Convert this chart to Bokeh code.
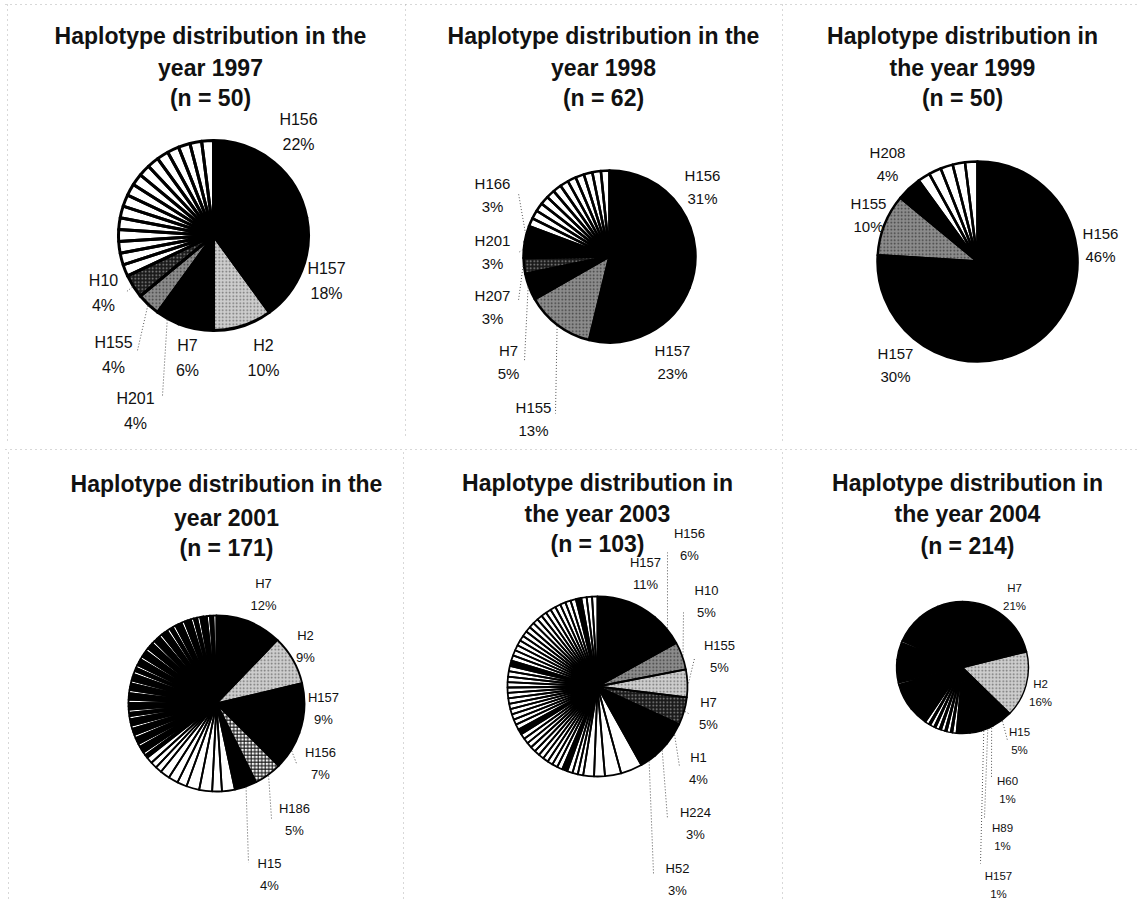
import math
from bokeh.plotting import figure
from bokeh.models import Range1d, ColumnDataSource
from bokeh.core.properties import value
from bokeh.embed import file_html
from bokeh.resources import INLINE

WIDTH, HEIGHT = 1145, 905

# ---------------------------------------------------------------- data
years = [1997, 1998, 1999, 2001, 2003, 2004]
sample_sizes = [50, 62, 50, 171, 103, 214]

# labelled haplotypes, clockwise from 12 o'clock, in percent of isolates
names_1997 = ["H156", "H157", "H2", "H7", "H201", "H155", "H10"]
pct_1997 = [22, 18, 10, 6, 4, 4, 4]
fill_1997 = "kkgkkmd"
# remaining haplotypes, as isolate counts
other_counts_1997 = [1, 1, 1, 1, 1, 1, 1, 1, 1, 1, 1, 1, 1, 1, 1, 1]
other_fill_1997 = "wwwwwwwwwwwwwwww"

names_1998 = ["H156", "H157", "H155", "H7", "H207", "H201", "H166"]
pct_1998 = [31, 23, 13, 5, 3, 3, 3]
fill_1998 = "kkmkdkk"
other_counts_1998 = [1, 1, 1, 1, 1, 1, 1, 1, 1, 1, 1, 1]
other_fill_1998 = "wwwwwwwwwwww"

names_1999 = ["H156", "H157", "H155", "H208"]
pct_1999 = [46, 30, 10, 4]
fill_1999 = "kkmk"
other_counts_1999 = [1, 1, 1, 1, 1]
other_fill_1999 = "wwwww"

names_2001 = ["H7", "H2", "H157", "H156", "H186", "H15"]
pct_2001 = [12, 9, 9, 7, 5, 4]
fill_2001 = "kgkkck"
other_counts_2001 = [4, 3, 4, 4, 3, 3, 3, 2, 2, 2,
                     1, 1, 1, 1, 1, 1, 1, 1, 1, 1,
                     1, 1, 1, 1, 1, 1, 1, 1, 1, 1,
                     1, 1, 1, 1, 1, 1, 1, 1, 1, 1,
                     1, 1, 1, 1, 1, 1, 1, 1, 1, 1,
                     1, 1, 1, 1, 1, 1, 1, 1, 1, 1,
                     1, 1, 1, 1, 1, 1, 1, 1, 1, 1]
other_fill_2001 = ("wwwwwwwwww"
                   "kwkkwkkwkk" "wkkwkwkkwk" "kwkkwkkwkw"
                   "kkwkkwkkwk" "kwkkwkwkkw" "kkwkwkkwkw")

names_2003 = ["H157", "H156", "H10", "H155", "H7", "H1", "H224", "H52"]
pct_2003 = [11, 6, 5, 5, 5, 4, 3, 3]
fill_2003 = "kkmgdkkk"
other_counts_2003 = [4, 3, 2, 2,
                     1, 1, 1, 1, 1, 1, 1, 1, 1, 1,
                     1, 1, 1, 1, 1, 1, 1, 1, 1, 1,
                     1, 1, 1, 1, 1, 1, 1, 1, 1, 1,
                     1, 1, 1, 1, 1, 1, 1, 1, 1, 1,
                     1, 1, 1, 1, 1, 1, 1, 1, 1]
other_fill_2003 = ("wwww"
                   "wwwkwwwwww" "wwwwkwwwww" "wwwwwwwkww"
                   "wwwwwwwwww" "wwwwwkwww")

names_2004 = ["H7", "H2", "H15", "H60", "H89", "H157"]
pct_2004 = [21, 16, 5, 1, 1, 1]
fill_2004 = "kgkkkk"
other_counts_2004 = [6, 7,
                     2, 1, 2, 1, 2, 1, 2, 1, 2, 1, 2,
                     10, 14, 1, 12, 9, 1, 15, 11, 13]
other_fill_2004 = ("kk"
                   "wkwkwkwkwkw"
                   "kkwkkwkkk")

# ---------------------------------------------------------------- styles
# fill code -> (fill colour, hatch pattern, hatch colour)
FILLS = {
    "k": ("#000000", " ", "#000000"),
    "w": ("#ffffff", " ", "#ffffff"),
    "g": ("#cdcdcd", "dot", "#6e6e6e"),
    "m": ("#8c8c8c", "dot", "#3c3c3c"),
    "d": ("#1a1a1a", "dot", "#8f8f8f"),
    "c": ("#f4f4f4", "cross", "#111111"),
}

# per-panel layout in page pixels (y downward)
LAYOUT = {
    1997: dict(c=(213, 235), r=95, lw=3.0, tx=210, ty=(35, 67, 97), split="the",
               fs=16, gap=25,
               lab={"H156": (298, 119), "H157": (326, 268), "H2": (263, 345),
                    "H7": (187, 345), "H201": (135, 398), "H155": (113, 342),
                    "H10": (103, 280)},
               lead={"H201": (162, 395), "H155": (137, 350), "H10": (125, 292)}),
    1998: dict(c=(609, 256), r=86, lw=2.5, tx=603, ty=(35, 67, 97), split="the",
               fs=15, gap=23,
               lab={"H156": (702, 175), "H157": (672, 350), "H155": (533, 407),
                    "H7": (508, 350), "H207": (492, 295), "H201": (492, 240),
                    "H166": (492, 183)},
               lead={"H155": (555, 413), "H7": (524, 360), "H207": (518, 300),
                     "H201": (518, 252), "H166": (518, 193)}),
    1999: dict(c=(977, 261), r=100, lw=2.5, tx=962, ty=(35, 67, 97), split="in",
               fs=15, gap=23,
               lab={"H156": (1100, 233), "H157": (895, 353), "H155": (868, 203),
                    "H208": (887, 152)},
               lead={}),
    2001: dict(c=(216, 703), r=88, lw=1.8, tx=226, ty=(483, 517, 547), split="the",
               fs=13, gap=22,
               lab={"H7": (263, 583), "H2": (305, 635), "H157": (323, 697),
                    "H156": (320, 752), "H186": (294, 808), "H15": (269, 863)},
               lead={"H156": (296, 763), "H186": (271, 818), "H15": (248, 862)}),
    2003: dict(c=(597, 686), r=90, lw=1.8, tx=597, ty=(482, 513, 543), split="in",
               fs=13, gap=22,
               lab={"H156": (689, 533), "H157": (645, 562), "H10": (706, 590),
                    "H155": (719, 645), "H7": (708, 702), "H1": (698, 757),
                    "H224": (695, 812), "H52": (677, 868)},
               lead={"H156": (667, 552), "H10": (683, 612), "H155": (694, 658),
                     "H7": (688, 713), "H1": (679, 766), "H224": (667, 818),
                     "H52": (653, 873)}),
    2004: dict(c=(962, 667), r=66, lw=1.4, tx=967, ty=(482, 513, 545), split="in",
               fs=11.5, gap=18,
               lab={"H7": (1014, 587), "H2": (1040, 683), "H15": (1019, 731),
                    "H60": (1007, 780), "H89": (1002, 827), "H157": (998, 875)},
               lead={"H15": (1007, 740), "H60": (991, 778), "H89": (984, 817),
                     "H157": (980, 863)}),
}

PANELS = {
    1997: (names_1997, pct_1997, fill_1997, other_counts_1997, other_fill_1997),
    1998: (names_1998, pct_1998, fill_1998, other_counts_1998, other_fill_1998),
    1999: (names_1999, pct_1999, fill_1999, other_counts_1999, other_fill_1999),
    2001: (names_2001, pct_2001, fill_2001, other_counts_2001, other_fill_2001),
    2003: (names_2003, pct_2003, fill_2003, other_counts_2003, other_fill_2003),
    2004: (names_2004, pct_2004, fill_2004, other_counts_2004, other_fill_2004),
}

FONT = value("Liberation Sans")
INK = "#111111"


def fy(py):
    """page pixel row -> data y (data y grows upward)"""
    return HEIGHT - py


p = figure(width=WIDTH, height=HEIGHT, output_backend="svg", toolbar_location=None,
           x_range=Range1d(0, WIDTH), y_range=Range1d(0, HEIGHT),
           x_axis_location=None, y_axis_location=None, min_border=0,
           outline_line_color=None, background_fill_color="white",
           border_fill_color="white")
p.grid.visible = False

# faint dotted frames around the six chart objects
frame_x0 = [5, 7, 405, 782, 5, 8, 403, 782]
frame_y0 = [4, 4, 4, 4, 449, 452, 452, 452]
frame_x1 = [1140, 7, 405, 782, 1140, 8, 403, 782]
frame_y1 = [4, 440, 435, 440, 449, 900, 900, 900]
p.segment(x0=frame_x0, y0=[fy(v) for v in frame_y0],
          x1=frame_x1, y1=[fy(v) for v in frame_y1],
          line_color="#b0b0b0", line_width=1, line_dash="1 4")

for year, n in zip(years, sample_sizes):
    names, pcts, fills, ocounts, ofills = PANELS[year]
    L = LAYOUT[year]
    cx, cy = L["c"]
    r = L["r"]

    vals = list(pcts) + [c * 100.0 / n for c in ocounts]
    codes = list(fills) + list(ofills)[:len(ocounts)]
    total = float(sum(vals))

    starts, ends, fc, hp, hc = [], [], [], [], []
    mids = {}
    acc = 0.0
    for i, v in enumerate(vals):
        a0 = acc / total * 2 * math.pi          # clockwise from 12 o'clock
        acc += v
        a1 = acc / total * 2 * math.pi
        starts.append(math.pi / 2 - a1)
        ends.append(math.pi / 2 - a0)
        f = FILLS[codes[i]]
        fc.append(f[0]); hp.append(f[1]); hc.append(f[2])
        if i < len(names):
            mids[names[i]] = (a0 + a1) / 2

    src = ColumnDataSource(dict(
        x=[cx] * len(vals), y=[fy(cy)] * len(vals),
        start=starts, end=ends, fill=fc, hatch=hp, hcol=hc))
    # fills first, then every outline on top so no seams show between slices
    p.wedge(x="x", y="y", radius=r, start_angle="start", end_angle="end",
            fill_color="fill", hatch_pattern="hatch", hatch_color="hcol",
            hatch_scale=3.5, hatch_weight=1.0, line_color=None, source=src)
    p.wedge(x="x", y="y", radius=r, start_angle="start", end_angle="end",
            fill_color=None, line_color="black", line_width=L["lw"],
            line_join="round", source=src)

    # leader lines from the rim of a slice to its label
    lx0, ly0, lx1, ly1 = [], [], [], []
    for nm, (ax, ay) in L["lead"].items():
        a = mids[nm]
        lx0.append(cx + (r + 1) * math.sin(a))
        ly0.append(fy(cy - (r + 1) * math.cos(a)))
        lx1.append(ax)
        ly1.append(fy(ay))
    if lx0:
        p.segment(x0=lx0, y0=ly0, x1=lx1, y1=ly1, line_color="#555555",
                  line_width=1, line_dash="1 2")

    # slice labels: name over percentage
    tx, ty, tt = [], [], []
    for nm, pc in zip(names, pcts):
        x0, y0 = L["lab"][nm]
        tx += [x0, x0]
        ty += [fy(y0), fy(y0 + L["gap"])]
        tt += [nm, f"{pc}%"]
    p.text(x=tx, y=ty, text=tt, text_font=FONT,
           text_font_size=f"{L['fs']}px", text_color=INK,
           text_align="center", text_baseline="middle")

    # three-line title
    if L["split"] == "the":
        lines = ["Haplotype distribution in the", f"year {year}", f"(n = {n})"]
    else:
        lines = ["Haplotype distribution in", f"the year {year}", f"(n = {n})"]
    p.text(x=[L["tx"]] * 3, y=[fy(v) for v in L["ty"]], text=lines,
           text_font=FONT, text_font_style="bold", text_font_size="23px",
           text_color=INK, text_align="center", text_baseline="middle")

open("out.html", "w").write(file_html(p, INLINE))
